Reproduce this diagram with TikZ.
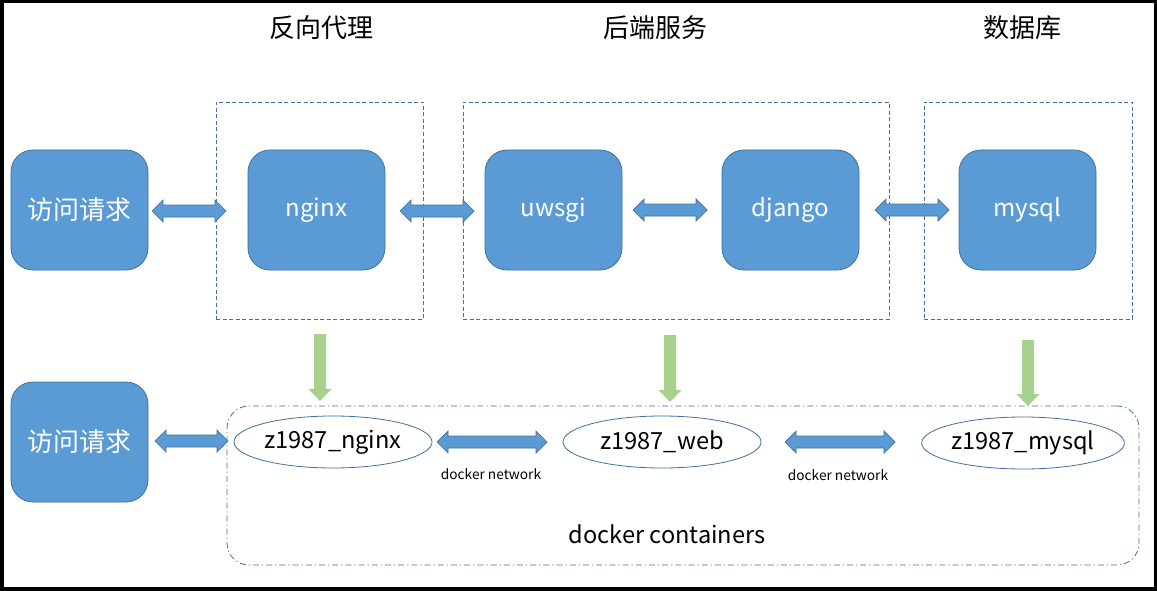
\documentclass[tikz,border=0pt]{standalone}
\usepackage{fontspec}
\setmainfont{Noto Sans CJK SC}
\usetikzlibrary{shapes.geometric,calc}
\definecolor{boxfill}{HTML}{5B9BD5}
\definecolor{boxline}{HTML}{41719C}
\definecolor{greenarr}{HTML}{A9D18E}
\tikzset{
  bluebox/.style={draw=boxline, fill=boxfill, line width=0.8pt, rounded corners=22pt,
    minimum width=137pt, minimum height=120pt, inner sep=0pt, text=white,
    font=\fontsize{24pt}{28pt}\selectfont},
  cjkbox/.style={bluebox, font=\fontsize{26pt}{30pt}\selectfont},
  groupbox/.style={draw=boxline, line width=0.8pt, dash pattern=on 4pt off 2.5pt,
    minimum height=217pt, inner sep=0pt},
  header/.style={font=\fontsize{26pt}{30pt}\selectfont, text=black},
  contbox/.style={draw=boxline, line width=0.8pt, rounded corners=22pt,
    dash pattern=on 6pt off 3pt on 1.2pt off 3pt, minimum width=912pt, minimum height=159pt, inner sep=0pt},
  cont/.style={draw=boxline, line width=0.8pt, ellipse, minimum width=198pt, minimum height=52pt,
    inner sep=0pt, font=\fontsize{23.6pt}{28pt}\selectfont},
  smalllbl/.style={font=\fontsize{13.7pt}{16pt}\selectfont},
  biglbl/.style={font=\fontsize{23.6pt}{28pt}\selectfont},
  blockarr/.style={draw=boxline, fill=boxfill, line width=0.7pt, line join=miter},
  greenblock/.style={fill=greenarr},
}
\newcommand\BlockDbl[2]{%
  \path[blockarr] let \p1=(#1), \p2=(#2) in
    (\x1,\y1) -- (\x1+11pt,\y1+11pt) -- (\x1+11pt,\y1+6pt) -- (\x2-11pt,\y1+6pt)
    -- (\x2-11pt,\y1+11pt) -- (\x2,\y1) -- (\x2-11pt,\y1-11pt) -- (\x2-11pt,\y1-6pt)
    -- (\x1+11pt,\y1-6pt) -- (\x1+11pt,\y1-11pt) -- cycle;}
\newcommand\GreenDown[2]{%
  \path[greenblock] let \p1=(#1), \p2=(#2) in
    (\x1-6pt,\y1) -- (\x1+6pt,\y1) -- (\x1+6pt,\y2+12pt) -- (\x1+11.5pt,\y2+12pt)
    -- (\x1,\y2) -- (\x1-11.5pt,\y2+12pt) -- (\x1-6pt,\y2+12pt) -- cycle;}
\begin{document}
\begin{tikzpicture}[x=1pt,y=-1pt]
\useasboundingbox (0,0) rectangle (1157,591);
\fill[black] (0,0) rectangle (1157,591);
\fill[white] (3.5,3.5) rectangle (1153.5,586.5);

% headers
\node[header] (h1) at (321,28) {反向代理};
\node[header] (h2) at (655,28) {后端服务};
\node[header] (h3) at (1022,28) {数据库};

% group boxes
\node[groupbox, minimum width=207pt] (grp1) at (319.5,210.5) {};
\node[groupbox, minimum width=426pt] (grp2) at (676,210.5) {};
\node[groupbox, minimum width=208pt] (grp3) at (1028,210.5) {};

% blue boxes
\node[cjkbox] (req1) at (79.5,210) {访问请求};
\node[bluebox] (nginx) at (316.5,210) {\raisebox{-2pt}{nginx}};
\node[bluebox] (uwsgi) at (553.5,210) {\raisebox{-2pt}{uwsgi}};
\node[bluebox] (django) at (790.5,210) {\raisebox{-2pt}{django}};
\node[bluebox] (mysql) at (1027.5,210) {\raisebox{-2pt}{mysql}};
\node[cjkbox] (req2) at (79.5,442) {访问请求};

% container
\node[contbox] (contain) at (683,485.5) {};
\node[cont] (cnginx) at (333,442) {z1987\_nginx};
\node[cont] (cweb) at (662,442) {z1987\_web};
\node[cont] (cmysql) at (1023,443) {z1987\_mysql};
\node[smalllbl] (net1) at (491,474) {docker network};
\node[smalllbl] (net2) at (838,475) {docker network};
\node[biglbl] (contlbl) at (667,534) {docker containers};

% arrow ends
\coordinate (a1s) at (152,211); \coordinate (a1e) at (226,211);
\coordinate (a2s) at (400,211); \coordinate (a2e) at (474,211);
\coordinate (a3s) at (633,210); \coordinate (a3e) at (707,210);
\coordinate (a4s) at (875,210); \coordinate (a4e) at (949,210);
\coordinate (b1s) at (155,441); \coordinate (b1e) at (228,441);
\coordinate (b2s) at (437,442); \coordinate (b2e) at (547,442);
\coordinate (b3s) at (785,442); \coordinate (b3e) at (895,442);
\BlockDbl{a1s}{a1e}
\BlockDbl{a2s}{a2e}
\BlockDbl{a3s}{a3e}
\BlockDbl{a4s}{a4e}
\BlockDbl{b1s}{b1e}
\BlockDbl{b2s}{b2e}
\BlockDbl{b3s}{b3e}

\coordinate (g1s) at (320,334); \coordinate (g1e) at (320,401);
\coordinate (g2s) at (670,335); \coordinate (g2e) at (670,402);
\coordinate (g3s) at (1028,340); \coordinate (g3e) at (1028,406);
\GreenDown{g1s}{g1e}
\GreenDown{g2s}{g2e}
\GreenDown{g3s}{g3e}
\end{tikzpicture}
\end{document}
